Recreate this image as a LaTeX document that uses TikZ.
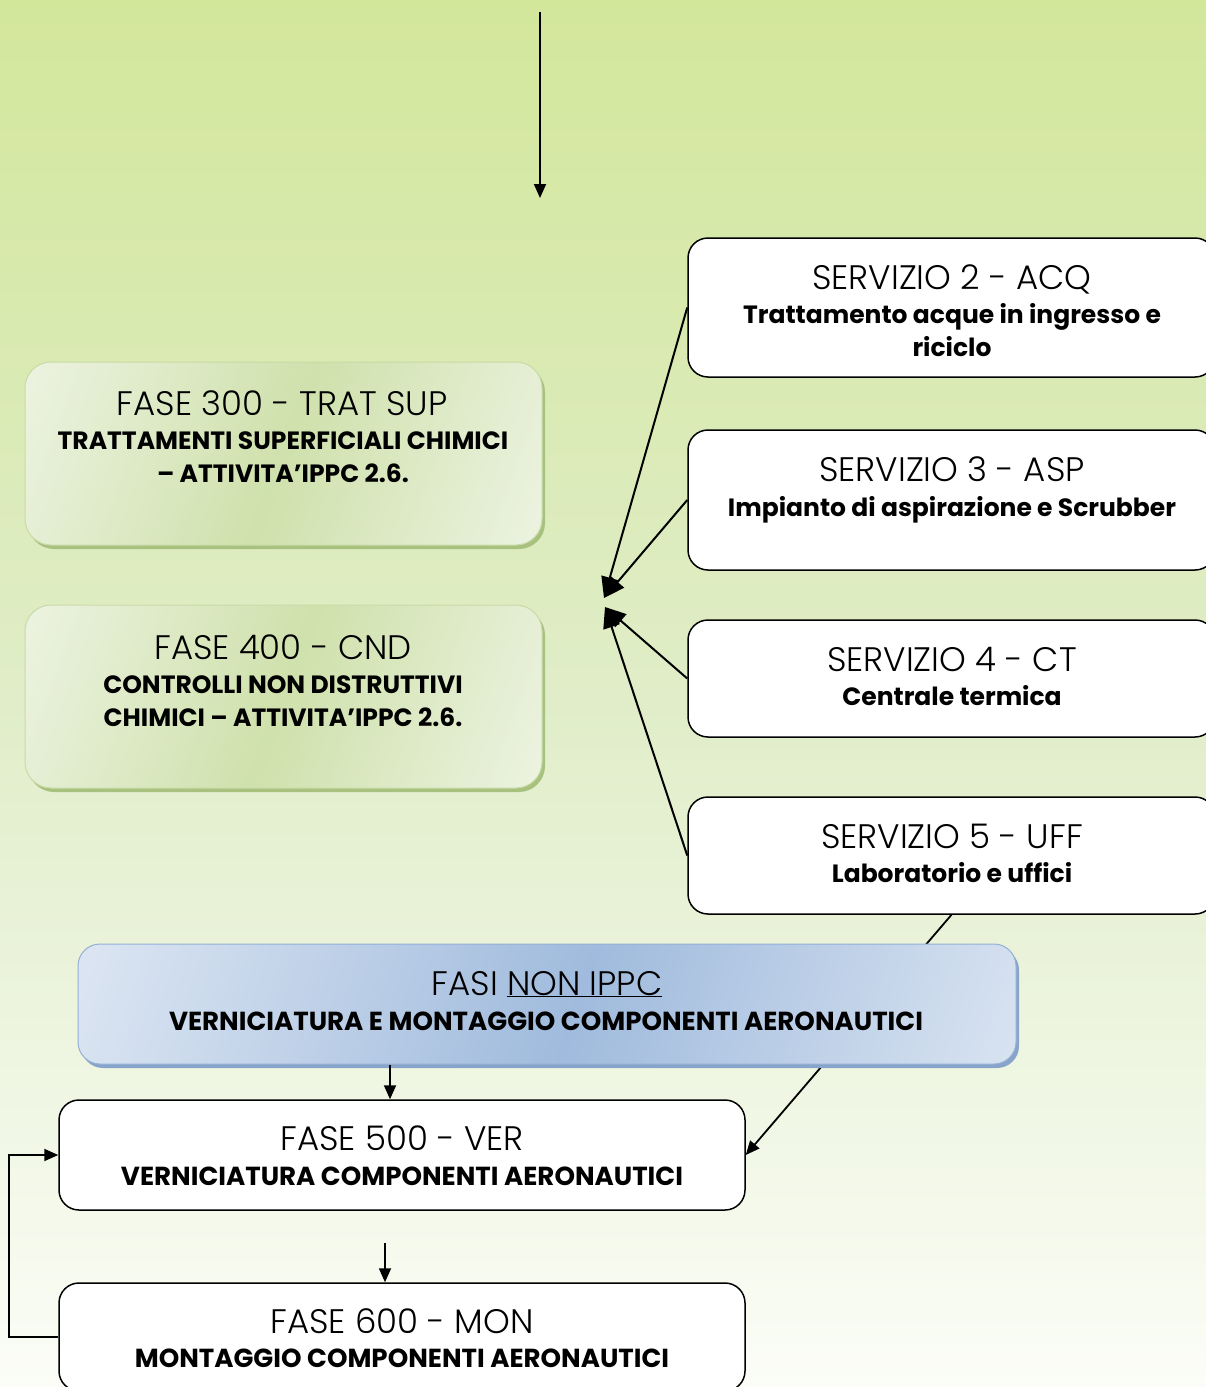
\documentclass[tikz,border=0pt]{standalone}
\usepackage{fontspec}
\setmainfont{Poppins}
\newfontfamily\ttlfont{Poppins Light}
\usetikzlibrary{arrows.meta,calc,shadows}

\definecolor{bgtop}{HTML}{D3E79B}
\definecolor{bgmid}{HTML}{E0EDC8}
\definecolor{bgbot}{HTML}{FBFDF7}
\definecolor{gLight}{HTML}{EEF4E4}
\definecolor{gMid}{HTML}{CFE1AC}
\definecolor{gRim}{HTML}{A9C17E}
\definecolor{gEdge}{HTML}{C8DBA6}
\definecolor{bLight}{HTML}{E1E9F4}
\definecolor{bMid}{HTML}{A0BBDD}
\definecolor{bRim}{HTML}{88A4CA}
\definecolor{bEdge}{HTML}{94B0D5}

% diagonal glow used by the coloured phase boxes
\pgfdeclarehorizontalshading{greenglow}{100bp}{color(0bp)=(gLight); color(16bp)=(gLight); color(50bp)=(gMid); color(84bp)=(gLight); color(100bp)=(gLight)}
\pgfdeclarehorizontalshading{blueglow}{100bp}{color(0bp)=(bLight); color(16bp)=(bLight); color(52bp)=(bMid); color(86bp)=(bLight); color(100bp)=(bLight)}

\begin{document}
\begin{tikzpicture}[x=1pt,y=-1pt,
  gbox/.style={rounded corners=26pt, shading=greenglow, shading angle=-20,
    draw=gEdge, line width=1pt,
    general shadow={fill=gRim, shadow xshift=3pt, shadow yshift=-4pt}},
  bbox/.style={rounded corners=22pt, shading=blueglow, shading angle=-18,
    draw=bEdge, line width=1pt,
    general shadow={fill=bRim, shadow xshift=3pt, shadow yshift=-4pt}},
  wbox/.style={rounded corners=20pt, fill=white, draw=black, line width=1.5pt},
  ttl/.style={anchor=base, inner sep=0pt, font=\ttlfont\fontsize{34}{40}\selectfont},
  sub/.style={anchor=base, inner sep=0pt, font=\bfseries\fontsize{25}{30}\selectfont},
  subw/.style={anchor=base, inner sep=0pt, font=\bfseries\fontsize{26.1}{31}\selectfont},
  arr/.style={draw=black, line width=1.8pt, -{Triangle[length=14pt,width=12pt]}},
  arrbig/.style={draw=black, line width=2pt, -{Triangle[length=21pt,width=17pt]}}]

\useasboundingbox (0,0) rectangle (1206,1387);
\fill[top color=bgtop, bottom color=bgbot, middle color=bgmid] (0,0) rectangle (1206,1387);

% incoming flow from the upper part of the process
\coordinate (tin) at (540,12);
\coordinate (tout) at (540,198);
\draw[arr] (tin) -- (tout);

% service boxes on the right
\node[wbox, minimum width=527, minimum height=139] (s2) at (951.5,307.5) {};
\node[wbox, minimum width=527, minimum height=140] (s3) at (951.5,500) {};
\node[wbox, minimum width=527, minimum height=117] (s4) at (951.5,678.5) {};
\node[wbox, minimum width=527, minimum height=117] (s5) at (951.5,855.5) {};

\node[ttl] (s2t) at (952,289) {SERVIZIO 2 - ACQ};
\node[sub] (s2a) at (952,323) {Trattamento acque in ingresso e};
\node[sub] (s2b) at (952,356) {riciclo};
\node[ttl] (s3t) at (952,481) {SERVIZIO 3 - ASP};
\node[sub] (s3a) at (952,516) {Impianto di aspirazione e Scrubber};
\node[ttl] (s4t) at (952,671) {SERVIZIO 4 - CT};
\node[sub] (s4a) at (952,705) {Centrale termica};
\node[ttl] (s5t) at (952,848) {SERVIZIO 5 - UFF};
\node[sub] (s5a) at (952,882) {Laboratorio e uffici};

% IPPC chemical phases
\node[gbox, minimum width=517, minimum height=183] (f3) at (283.5,453.5) {};
\node[gbox, minimum width=517, minimum height=183] (f4) at (283.5,696.5) {};

\node[ttl] (f3t) at (282,415) {FASE 300 - TRAT SUP};
\node[sub] (f3a) at (283,449) {TRATTAMENTI SUPERFICIALI CHIMICI};
\node[sub] (f3b) at (283,482) {– ATTIVITA’IPPC 2.6.};
\node[ttl] (f4t) at (283,659) {FASE 400 - CND};
\node[sub] (f4a) at (283,693) {CONTROLLI NON DISTRUTTIVI};
\node[sub] (f4b) at (283,726) {CHIMICI – ATTIVITA’IPPC 2.6.};

% services feeding the chemical phases
\coordinate (c1) at (604,598);
\coordinate (c2) at (605,607);
\draw[arrbig] (s2.west) -- (c1);
\draw[arrbig] (s3.west) -- (c1);
\draw[arrbig] (s4.west) -- (c2);
\draw[arrbig] (s5.west) -- (c2);

% lower phases
\node[wbox, minimum width=686, minimum height=110] (f5) at (402,1155) {};
\node[wbox, minimum width=686, minimum height=108] (f6) at (402,1337) {};

% offices also serve the painting phase (runs behind the blue box)
\draw[arr] (s5.south) -- (f5.east);

\node[bbox, minimum width=938, minimum height=120] (nip) at (547,1004) {};
\node[ttl] (nipt) at (547,995) {FASI \underline{NON IPPC}};
\node[subw] (nipa) at (546,1030) {VERNICIATURA E MONTAGGIO COMPONENTI AERONAUTICI};

\node[ttl] (f5t) at (402,1150) {FASE 500 - VER};
\node[subw] (f5a) at (402,1185) {VERNICIATURA COMPONENTI AERONAUTICI};
\node[ttl] (f6t) at (402,1333) {FASE 600 - MON};
\node[subw] (f6a) at (402,1367) {MONTAGGIO COMPONENTI AERONAUTICI};

\coordinate (xa) at (390,0);
\draw[arr] (nip.south -| xa) -- (f5.north -| xa);
\coordinate (a56) at (385,1243);
\draw[arr] (a56) -- (f6.north -| a56);

% return loop from assembly back to painting
\draw[arr] (f6.west) -- ++(-49,0) |- (f5.west);
\end{tikzpicture}
\end{document}
